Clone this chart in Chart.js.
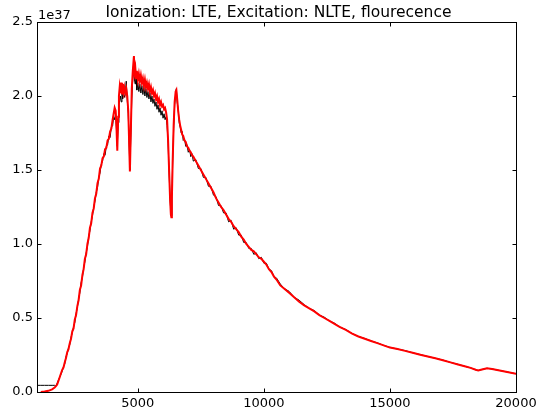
<!DOCTYPE html>
<html>
<head>
<meta charset="utf-8">
<script src="https://cdn.jsdelivr.net/npm/chart.js@4.4.1/dist/chart.umd.min.js"></script>
<style>
  html, body { margin: 0; padding: 0; background: #fff; }
  canvas { display: block; }
</style>
</head>
<body>
<canvas id="spectrum" width="545" height="415"></canvas>
<script>
// ==============================
// DATA (flux in units of 1e37)
// ==============================
const wavelength = [
    1000, 1150, 1300, 1450, 1600, 1700, 1750, 1800, 1900,
    2000, 2050, 2100, 2150, 2200, 2250, 2300, 2350, 2400, 2450,
    2500, 2550, 2600, 2650, 2700, 2750, 2800, 2850, 2900, 2950,
    3000, 3050, 3100, 3150, 3200, 3250, 3300, 3350, 3400, 3450,
    3500, 3550, 3600, 3650, 3700, 3750, 3800, 3850, 3900, 3950,
    4000, 4040, 4080, 4120, 4150, 4185, 4220, 4250, 4280, 4310,
    4340, 4370, 4400, 4430, 4460, 4500, 4540, 4580, 4620, 4650,
    4685, 4720, 4760, 4800, 4844, 4870, 4900, 4930, 4960, 5000,
    5040, 5080, 5120, 5160, 5200, 5240, 5280, 5320, 5360, 5400,
    5440, 5480, 5520, 5560, 5600, 5640, 5680, 5720, 5760, 5800,
    5840, 5880, 5920, 5960, 6000, 6040, 6080, 6120, 6160, 6200,
    6240, 6280, 6310, 6329, 6350, 6380, 6420, 6460, 6500, 6528,
    6560, 6600, 6640, 6680, 6720, 6760, 6800, 6850, 6900, 6950,
    7000, 7050, 7100, 7150, 7200, 7300, 7400, 7500, 7600, 7700,
    7800, 7900, 8000, 8100, 8200, 8300, 8400, 8500, 8600, 8700,
    8800, 8900, 9000, 9100, 9200, 9300, 9400, 9500, 9600, 9700,
    9800, 9900, 10000, 10100, 10200, 10300, 10400, 10500, 10650, 10800,
    11000, 11200, 11400, 11600, 11800, 12000, 12200, 12400, 12600, 12800,
    13000, 13250, 13500, 13750, 14000, 14250, 14500, 14750, 15000, 15300,
    15600, 15900, 16200, 16500, 16800, 17100, 17400, 17700, 18000, 18200,
    18400, 18500, 18650, 18850, 19050, 19300, 19600, 20000
];

// red: fluorescence model
const fluxRed = [
    null, 0.0, 0.003, 0.008, 0.018, 0.03, 0.04, 0.05, 0.10,
    0.15, 0.165, 0.20, 0.23, 0.27, 0.29, 0.33, 0.36, 0.41, 0.43,
    0.49, 0.52, 0.58, 0.62, 0.69, 0.72, 0.79, 0.83, 0.90, 0.93,
    1.00, 1.04, 1.11, 1.14, 1.21, 1.24, 1.31, 1.34, 1.41, 1.44,
    1.51, 1.53, 1.58, 1.59, 1.64, 1.65, 1.70, 1.71, 1.76, 1.78,
    1.84, 1.88, 1.92, 1.90, 1.80, 1.63, 1.86, 2.00, 2.06, 2.02,
    2.09, 2.01, 2.08, 2.03, 2.06, 2.02, 2.05, 2.00, 1.90, 1.72,
    1.49, 1.75, 2.05, 2.17, 2.27, 2.16, 2.19, 2.12, 2.17, 2.11,
    2.15, 2.10, 2.14, 2.09, 2.12, 2.07, 2.11, 2.06, 2.09, 2.05,
    2.08, 2.03, 2.06, 2.02, 2.04, 2.00, 2.02, 1.98, 2.00, 1.96,
    1.98, 1.94, 1.96, 1.93, 1.94, 1.91, 1.92, 1.89, 1.84, 1.70,
    1.50, 1.30, 1.20, 1.18, 1.30, 1.55, 1.80, 1.96, 2.03, 2.04,
    1.98, 1.90, 1.84, 1.80, 1.77, 1.74, 1.73, 1.70, 1.69, 1.66,
    1.65, 1.63, 1.62, 1.60, 1.59, 1.56, 1.53, 1.50, 1.47, 1.44,
    1.41, 1.38, 1.35, 1.31, 1.28, 1.25, 1.23, 1.20, 1.17, 1.15,
    1.12, 1.10, 1.08, 1.05, 1.03, 1.00, 0.98, 0.96, 0.95, 0.93,
    0.91, 0.90, 0.88, 0.86, 0.83, 0.81, 0.78, 0.76, 0.72, 0.70,
    0.67, 0.64, 0.61, 0.585, 0.565, 0.545, 0.52, 0.50, 0.48, 0.46,
    0.44, 0.42, 0.395, 0.375, 0.36, 0.345, 0.33, 0.315, 0.30, 0.29,
    0.278, 0.265, 0.252, 0.24, 0.228, 0.215, 0.20, 0.186, 0.172, 0.163,
    0.15, 0.145, 0.152, 0.16, 0.156, 0.147, 0.137, 0.123
];

// black: reference model
const fluxBlack = [
    0.045, 0.045, 0.045, 0.045, 0.045, 0.045, 0.04, 0.06, 0.10,
    0.14, 0.17, 0.19, 0.24, 0.26, 0.30, 0.32, 0.37, 0.40, 0.44,
    0.47, 0.53, 0.57, 0.63, 0.67, 0.74, 0.77, 0.84, 0.88, 0.94,
    0.98, 1.05, 1.09, 1.15, 1.19, 1.25, 1.29, 1.35, 1.38, 1.45,
    1.48, 1.54, 1.56, 1.61, 1.60, 1.66, 1.67, 1.73, 1.72, 1.79,
    1.80, 1.86, 1.84, 1.88, 1.78, 1.66, 1.82, 1.94, 1.97, 2.00,
    1.96, 2.03, 1.98, 2.04, 1.99, 2.01, 2.10, 1.97, 1.88, 1.70,
    1.50, 1.72, 1.98, 2.12, 2.18, 2.10, 2.08, 2.13, 2.04, 2.09,
    2.03, 2.08, 2.02, 2.07, 2.01, 2.06, 2.00, 2.05, 1.99, 2.03,
    1.98, 2.02, 1.96, 2.00, 1.95, 1.98, 1.93, 1.96, 1.91, 1.94,
    1.89, 1.92, 1.87, 1.90, 1.85, 1.88, 1.84, 1.86, 1.80, 1.68,
    1.48, 1.30, 1.21, 1.19, 1.32, 1.54, 1.78, 1.94, 2.01, 2.05,
    1.96, 1.91, 1.82, 1.79, 1.75, 1.76, 1.70, 1.71, 1.66, 1.67,
    1.62, 1.64, 1.59, 1.61, 1.56, 1.57, 1.51, 1.51, 1.45, 1.45,
    1.39, 1.39, 1.33, 1.32, 1.26, 1.26, 1.21, 1.21, 1.15, 1.16,
    1.10, 1.11, 1.06, 1.06, 1.01, 1.01, 0.97, 0.97, 0.93, 0.94,
    0.90, 0.91, 0.87, 0.87, 0.83, 0.82, 0.78, 0.77, 0.73, 0.70,
    0.68, 0.64, 0.62, 0.59, 0.565, 0.55, 0.52, 0.505, 0.48, 0.465,
    0.44, 0.422, 0.395, 0.375, 0.362, 0.345, 0.332, 0.315, 0.302, 0.29,
    0.28, 0.265, 0.253, 0.24, 0.228, 0.216, 0.20, 0.187, 0.172, 0.163,
    0.15, 0.145, 0.152, 0.16, 0.156, 0.147, 0.137, 0.123
];

const xTicks = [5000, 10000, 15000, 20000];
const yTicks = [0, 0.5, 1.0, 1.5, 2.0, 2.5];
const titleText = "Ionization: LTE, Excitation: NLTE, flourecence";
const offsetText = "1e37";

/**
 * ==============================
 * FRAME, INWARD TICKS, TITLE
 * ==============================
 */
const mplFrame = {
    id: "mplFrame",
    afterDraw(chart) {
        const { ctx, chartArea: a, scales } = chart;
        const L = Math.round(a.left) + 0.5;
        const R = Math.round(a.right) + 0.5;
        const T = Math.round(a.top) + 0.5;
        const B = Math.round(a.bottom) + 0.5;
        const len = 4;
        ctx.save();
        ctx.strokeStyle = "#000";
        ctx.lineWidth = 1;
        ctx.beginPath();
        xTicks.forEach((v) => {
            const px = Math.round(scales.x.getPixelForValue(v)) + 0.5;
            ctx.moveTo(px, B); ctx.lineTo(px, B - len);
            ctx.moveTo(px, T); ctx.lineTo(px, T + len);
        });
        yTicks.forEach((v) => {
            const py = Math.round(scales.y.getPixelForValue(v)) + 0.5;
            ctx.moveTo(L, py); ctx.lineTo(L + len, py);
            ctx.moveTo(R, py); ctx.lineTo(R - len, py);
        });
        ctx.stroke();
        ctx.strokeRect(L, T, R - L, B - T);

        ctx.fillStyle = "#000";
        ctx.textBaseline = "alphabetic";
        ctx.font = "15.5px 'DejaVu Sans'";
        ctx.textAlign = "center";
        ctx.fillText(titleText, (a.left + a.right) / 2 + 2, 17);
        ctx.font = "13px 'DejaVu Sans'";
        ctx.textAlign = "left";
        ctx.fillText(offsetText, a.left + 1, 19);
        ctx.restore();
    },
};

const series = (ys) =>
    wavelength.map((x, i) => ({ x, y: ys[i] }));

new Chart(document.getElementById("spectrum"), {
    type: "line",
    data: {
        datasets: [
            {
                label: "flourecence",
                data: series(fluxRed),
                borderColor: "#ff0000",
                borderWidth: 2,
                pointRadius: 0,
                tension: 0,
                order: 0,
            },
            {
                label: "reference",
                data: series(fluxBlack),
                borderColor: "#000000",
                borderWidth: 1,
                pointRadius: 0,
                tension: 0,
                order: 1,
            },
        ],
    },
    options: {
        responsive: false,
        animation: false,
        devicePixelRatio: 1,
        layout: { padding: { left: 0, right: 29, top: 22, bottom: 0 } },
        plugins: { legend: { display: false }, tooltip: { enabled: false } },
        scales: {
            x: {
                type: "linear",
                min: 1000,
                max: 20000,
                afterBuildTicks: (s) => { s.ticks = xTicks.map((value) => ({ value })); },
                afterFit: (s) => { s.height = 23; },
                grid: { display: false, drawTicks: false },
                border: { display: false },
                ticks: {
                    color: "#000",
                    font: { family: "DejaVu Sans", size: 13 },
                    padding: 4,
                    maxRotation: 0,
                    callback: (v) => String(v),
                },
            },
            y: {
                min: 0,
                max: 2.5,
                afterBuildTicks: (s) => { s.ticks = yTicks.map((value) => ({ value })); },
                afterFit: (s) => { s.width = 37; },
                grid: { display: false, drawTicks: false },
                border: { display: false },
                ticks: {
                    color: "#000",
                    font: { family: "DejaVu Sans", size: 13 },
                    padding: 4,
                    callback: (v) => v.toFixed(1),
                },
            },
        },
    },
    plugins: [mplFrame],
});
</script>
</body>
</html>
